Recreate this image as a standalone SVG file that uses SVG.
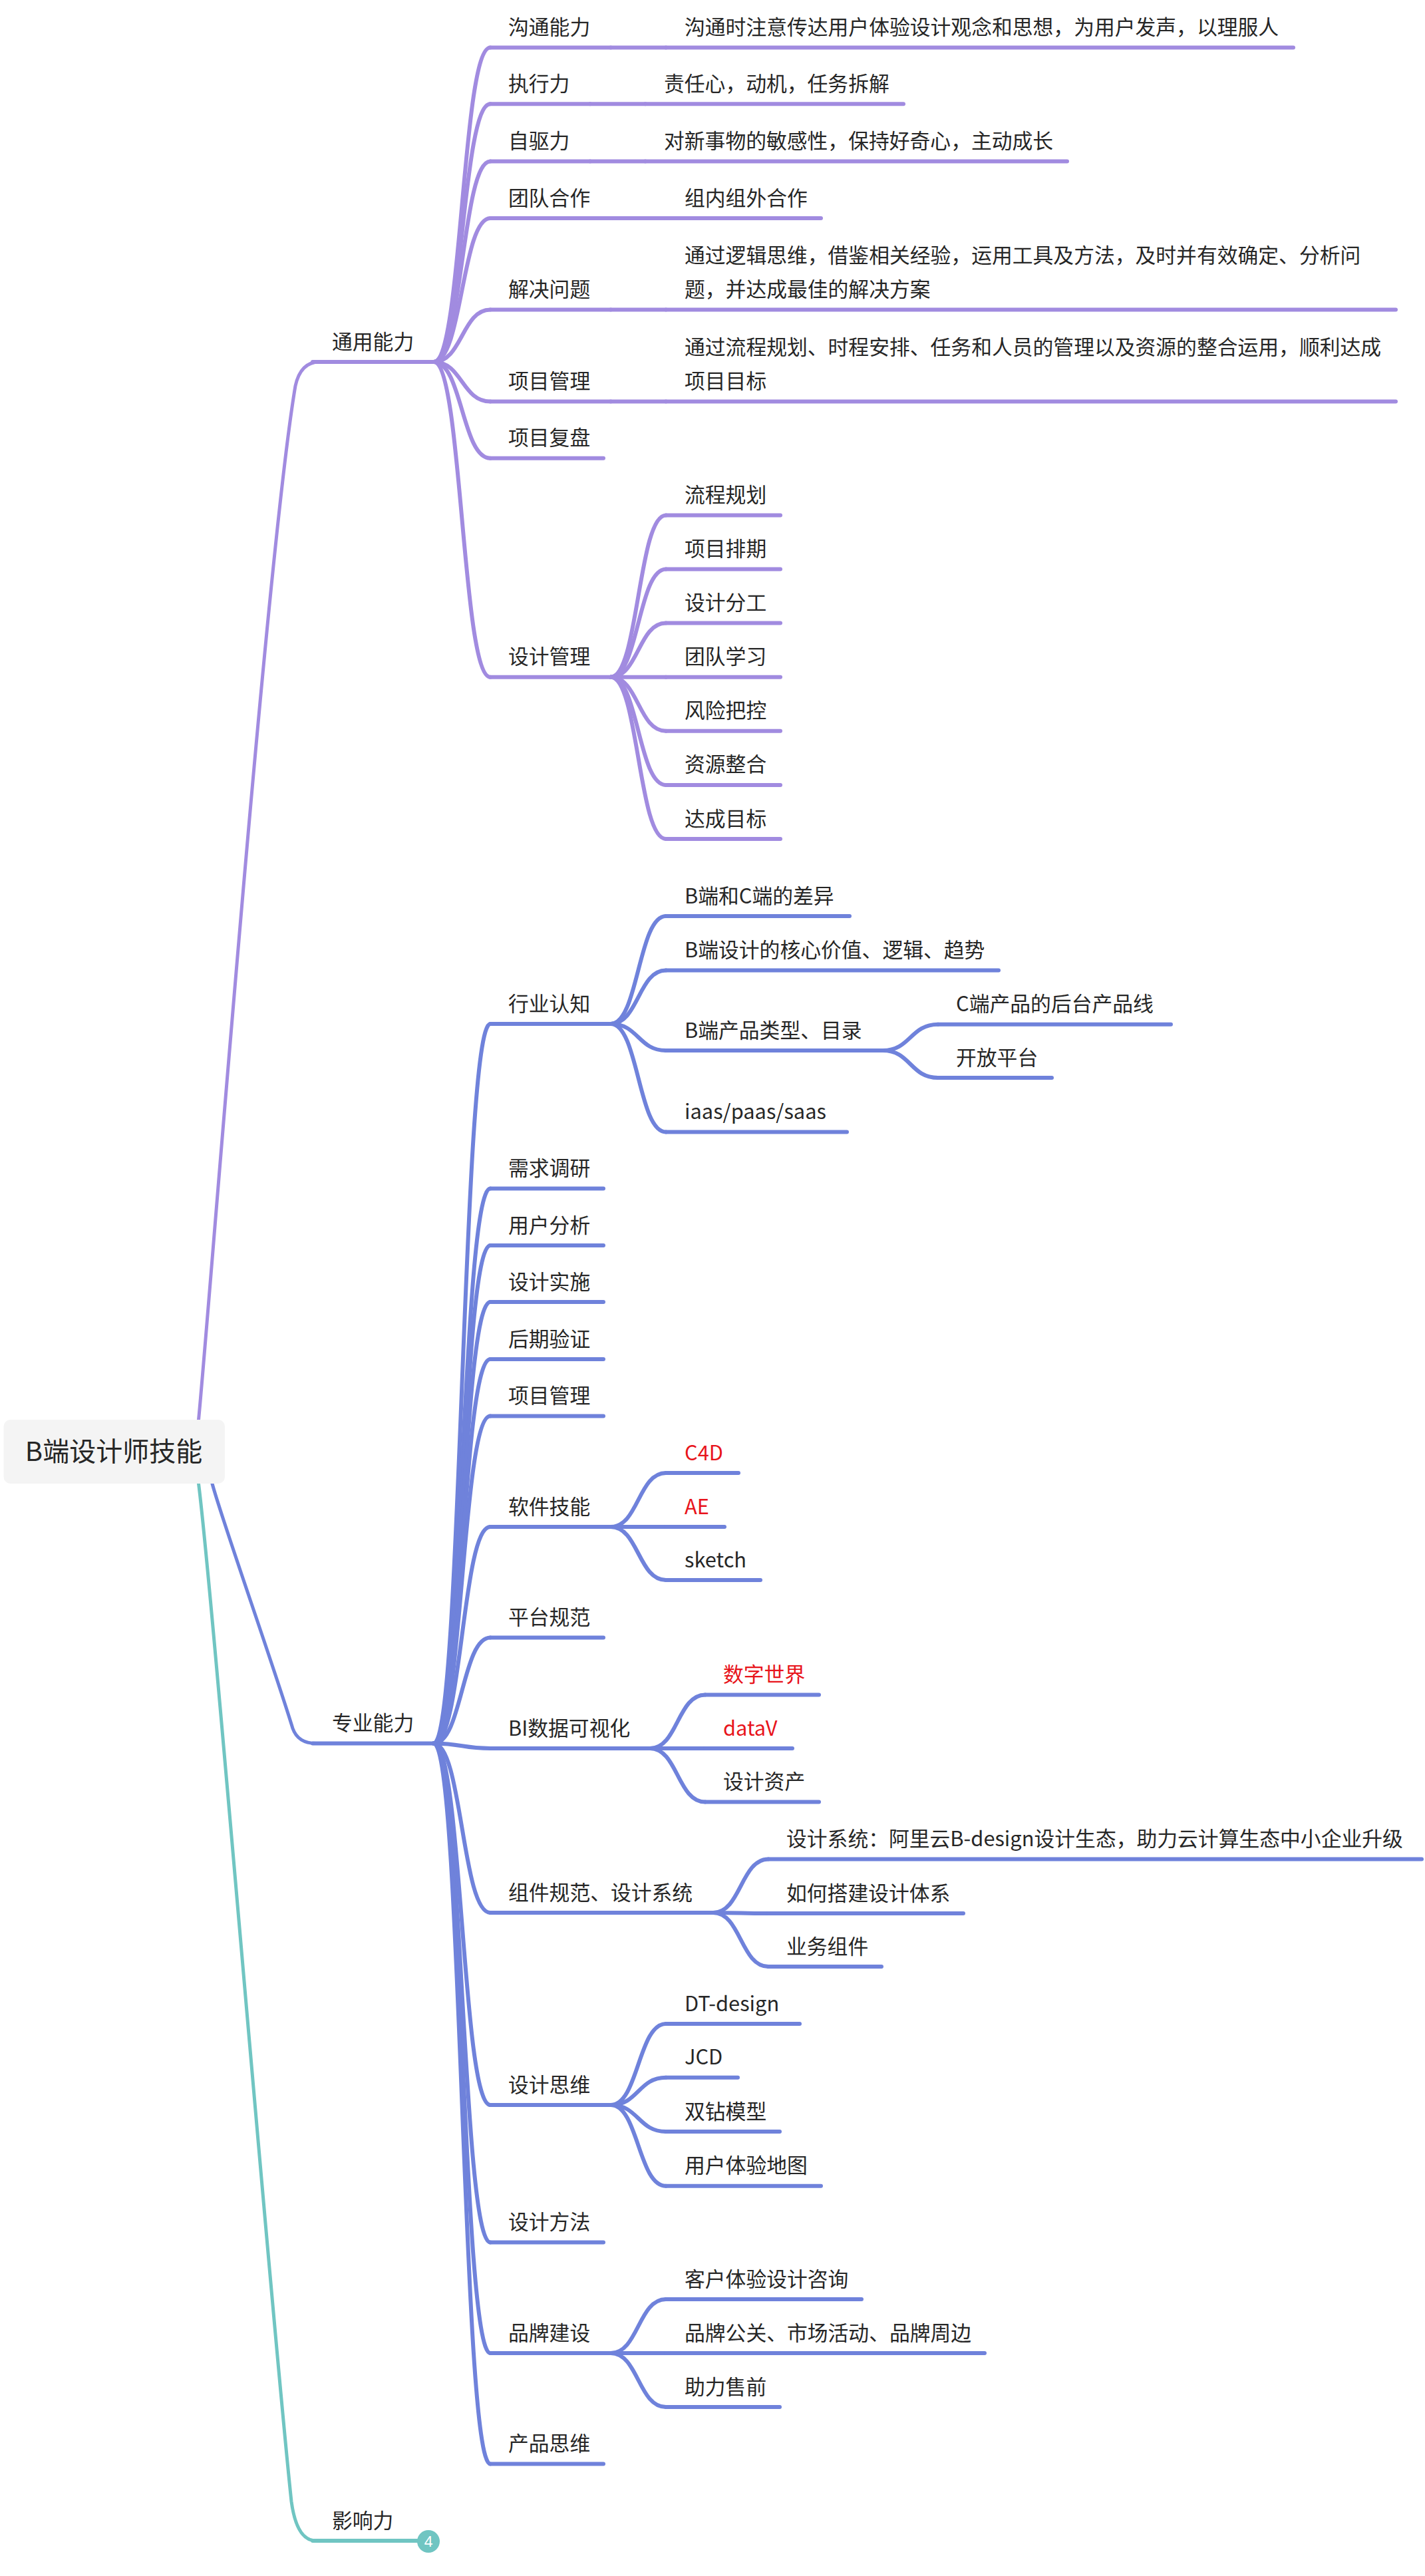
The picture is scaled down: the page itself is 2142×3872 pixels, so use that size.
<svg xmlns="http://www.w3.org/2000/svg" width="2142" height="3872" viewBox="0 0 2142 3872">
<style>
.t{font-family:"Noto Sans CJK SC","Noto Sans",sans-serif;font-size:30.8px;fill:#262626}
.rt{font-family:"Noto Sans CJK SC","Noto Sans",sans-serif;font-size:40px;fill:#262626}
.red{fill:#e8141b}
.l{fill:none;stroke-width:6;stroke-linecap:round}
.rl{fill:none;stroke-width:5;stroke-linecap:round}
.p{stroke:#a18be0}
.b{stroke:#6f82db}
.g{stroke:#70c5c2}
</style>
<rect width="2142" height="3872" fill="#ffffff"/>
<g id="connectors">
<path class="rl p" d="M298.5 2134C312 2000 400 840 444 580Q452 544 480 544"/>
<path class="rl b" d="M319 2230C332 2280 410 2500 440 2598Q448 2620.5 475 2620.5"/>
<path class="rl g" d="M298.5 2230C320 2400 405 3450 438 3760Q446 3819 475 3819"/>
<g class="l p">
<path d="M652 544C694.5 544 694.5 71.4 737 71.4"/>
<path d="M652 544C694.5 544 694.5 156.3 737 156.3"/>
<path d="M652 544C694.5 544 694.5 242.4 737 242.4"/>
<path d="M652 544C694.5 544 694.5 328 737 328"/>
<path d="M652 544C694.5 544 694.5 465.6 737 465.6"/>
<path d="M652 544C694.5 544 694.5 603.6 737 603.6"/>
<path d="M652 544C694.5 544 694.5 688.8 737 688.8"/>
<path d="M652 544C694.5 544 694.5 1017.7 737 1017.7"/>
<path d="M918 71.4L1001 71.4"/>
<path d="M887 156.3L970 156.3"/>
<path d="M887 242.4L970 242.4"/>
<path d="M918 328L1001 328"/>
<path d="M918 465.6L1001 465.6"/>
<path d="M918 603.6L1001 603.6"/>
<path d="M918 1017.7C959.5 1017.7 959.5 774.4 1001 774.4"/>
<path d="M918 1017.7C959.5 1017.7 959.5 855.5 1001 855.5"/>
<path d="M918 1017.7C959.5 1017.7 959.5 936.6 1001 936.6"/>
<path d="M918 1017.7L1001 1017.7"/>
<path d="M918 1017.7C959.5 1017.7 959.5 1098.8 1001 1098.8"/>
<path d="M918 1017.7C959.5 1017.7 959.5 1179.9 1001 1179.9"/>
<path d="M918 1017.7C959.5 1017.7 959.5 1261 1001 1261"/>
</g>
<g class="l b">
<path d="M652 2620.5C694.5 2620.5 694.5 1539 737 1539"/>
<path d="M652 2620.5C694.5 2620.5 694.5 1786.6 737 1786.6"/>
<path d="M652 2620.5C694.5 2620.5 694.5 1872 737 1872"/>
<path d="M652 2620.5C694.5 2620.5 694.5 1957 737 1957"/>
<path d="M652 2620.5C694.5 2620.5 694.5 2043 737 2043"/>
<path d="M652 2620.5C694.5 2620.5 694.5 2128.6 737 2128.6"/>
<path d="M652 2620.5C694.5 2620.5 694.5 2295 737 2295"/>
<path d="M652 2620.5C694.5 2620.5 694.5 2461.6 737 2461.6"/>
<path d="M652 2620.5C694.5 2620.5 694.5 2628 737 2628"/>
<path d="M652 2620.5C694.5 2620.5 694.5 2875 737 2875"/>
<path d="M652 2620.5C694.5 2620.5 694.5 3164 737 3164"/>
<path d="M652 2620.5C694.5 2620.5 694.5 3370.6 737 3370.6"/>
<path d="M652 2620.5C694.5 2620.5 694.5 3537 737 3537"/>
<path d="M652 2620.5C694.5 2620.5 694.5 3703.6 737 3703.6"/>
<path d="M918 1539C959.5 1539 959.5 1377 1001 1377"/>
<path d="M918 1539C959.5 1539 959.5 1458.6 1001 1458.6"/>
<path d="M918 1539C959.5 1539 959.5 1579 1001 1579"/>
<path d="M918 1539C959.5 1539 959.5 1701.6 1001 1701.6"/>
<path d="M1327 1579C1368.5 1579 1368.5 1539.7 1410 1539.7"/>
<path d="M1327 1579C1368.5 1579 1368.5 1620 1410 1620"/>
<path d="M918 2295C959.5 2295 959.5 2214 1001 2214"/>
<path d="M918 2295L1001 2295"/>
<path d="M918 2295C959.5 2295 959.5 2375 1001 2375"/>
<path d="M977 2628C1018.5 2628 1018.5 2547.5 1060 2547.5"/>
<path d="M977 2628L1060 2628"/>
<path d="M977 2628C1018.5 2628 1018.5 2708.5 1060 2708.5"/>
<path d="M1072 2875C1113.5 2875 1113.5 2794.6 1155 2794.6"/>
<path d="M1072 2875C1113.5 2875 1113.5 2876 1155 2876"/>
<path d="M1072 2875C1113.5 2875 1113.5 2956 1155 2956"/>
<path d="M918 3164C959.5 3164 959.5 3042 1001 3042"/>
<path d="M918 3164C959.5 3164 959.5 3122.8 1001 3122.8"/>
<path d="M918 3164C959.5 3164 959.5 3204 1001 3204"/>
<path d="M918 3164C959.5 3164 959.5 3285.7 1001 3285.7"/>
<path d="M918 3537C959.5 3537 959.5 3456 1001 3456"/>
<path d="M918 3537L1001 3537"/>
<path d="M918 3537C959.5 3537 959.5 3618 1001 3618"/>
</g>
</g>

<g id="n-root">
<rect x="5.5" y="2134" width="332.5" height="96" rx="10" fill="#f4f4f4"/>
<text class="rt" x="171" y="2196" text-anchor="middle">B端设计师技能</text>
</g>

<g id="n-tongyong"><path class="l p" d="M470 544H652"/><text class="t" x="499" y="524.5">通用能力</text></g>
<g id="n-goutong"><path class="l p" d="M737 71.4H918"/><text class="t" x="764" y="51.9">沟通能力</text></g>
<g id="n-goutong-1"><path class="l p" d="M1001 71.4H1944"/><text class="t" x="1029" y="51.9">沟通时注意传达用户体验设计观念和思想，为用户发声，以理服人</text></g>
<g id="n-zhixing"><path class="l p" d="M737 156.3H887"/><text class="t" x="764" y="136.8">执行力</text></g>
<g id="n-zhixing-1"><path class="l p" d="M970 156.3H1358"/><text class="t" x="998" y="136.8">责任心，动机，任务拆解</text></g>
<g id="n-ziqu"><path class="l p" d="M737 242.4H887"/><text class="t" x="764" y="222.9">自驱力</text></g>
<g id="n-ziqu-1"><path class="l p" d="M970 242.4H1604"/><text class="t" x="998" y="222.9">对新事物的敏感性，保持好奇心，主动成长</text></g>
<g id="n-tuandui"><path class="l p" d="M737 328H918"/><text class="t" x="764" y="308.5">团队合作</text></g>
<g id="n-tuandui-1"><path class="l p" d="M1001 328H1234"/><text class="t" x="1029" y="308.5">组内组外合作</text></g>
<g id="n-jiejue"><path class="l p" d="M737 465.6H918"/><text class="t" x="764" y="446.1">解决问题</text></g>
<g id="n-jiejue-1"><path class="l p" d="M1001 465.6H2098"/><text class="t" x="1029" y="394.8">通过逻辑思维，借鉴相关经验，运用工具及方法，及时并有效确定、分析问</text><text class="t" x="1029" y="446.1">题，并达成最佳的解决方案</text></g>
<g id="n-xiangmu1"><path class="l p" d="M737 603.6H918"/><text class="t" x="764" y="584.1">项目管理</text></g>
<g id="n-xiangmu1-1"><path class="l p" d="M1001 603.6H2098"/><text class="t" x="1029" y="532.8">通过流程规划、时程安排、任务和人员的管理以及资源的整合运用，顺利达成</text><text class="t" x="1029" y="584.1">项目目标</text></g>
<g id="n-fupan"><path class="l p" d="M737 688.8H907"/><text class="t" x="764" y="669.3">项目复盘</text></g>
<g id="n-sheji-guanli"><path class="l p" d="M737 1017.7H918"/><text class="t" x="764" y="998.2">设计管理</text></g>
<g id="n-liucheng"><path class="l p" d="M1001 774.4H1173"/><text class="t" x="1029" y="754.9">流程规划</text></g>
<g id="n-paiqi"><path class="l p" d="M1001 855.5H1173"/><text class="t" x="1029" y="836">项目排期</text></g>
<g id="n-fengong"><path class="l p" d="M1001 936.6H1173"/><text class="t" x="1029" y="917.1">设计分工</text></g>
<g id="n-xuexi"><path class="l p" d="M1001 1017.7H1173"/><text class="t" x="1029" y="998.2">团队学习</text></g>
<g id="n-fengxian"><path class="l p" d="M1001 1098.8H1173"/><text class="t" x="1029" y="1079.3">风险把控</text></g>
<g id="n-ziyuan"><path class="l p" d="M1001 1179.9H1173"/><text class="t" x="1029" y="1160.4">资源整合</text></g>
<g id="n-dacheng"><path class="l p" d="M1001 1261H1173"/><text class="t" x="1029" y="1241.5">达成目标</text></g>

<g id="n-zhuanye"><path class="l b" d="M470 2620.5H652"/><text class="t" x="499" y="2601">专业能力</text></g>
<g id="n-hangye"><path class="l b" d="M737 1539H918"/><text class="t" x="764" y="1519.5">行业认知</text></g>
<g id="n-bc"><path class="l b" d="M1001 1377H1277"/><text class="t" x="1029" y="1357.5">B端和C端的差异</text></g>
<g id="n-hexin"><path class="l b" d="M1001 1458.6H1501"/><text class="t" x="1029" y="1439.1">B端设计的核心价值、逻辑、趋势</text></g>
<g id="n-leixing"><path class="l b" d="M1001 1579H1327"/><text class="t" x="1029" y="1559.5">B端产品类型、目录</text></g>
<g id="n-houtai"><path class="l b" d="M1410 1539.7H1760"/><text class="t" x="1437" y="1520.2">C端产品的后台产品线</text></g>
<g id="n-kaifang"><path class="l b" d="M1410 1620H1581"/><text class="t" x="1437" y="1600.5">开放平台</text></g>
<g id="n-iaas"><path class="l b" d="M1001 1701.6H1273"/><text class="t" x="1029" y="1682.1">iaas/paas/saas</text></g>
<g id="n-xuqiu"><path class="l b" d="M737 1786.6H907"/><text class="t" x="764" y="1767.1">需求调研</text></g>
<g id="n-yonghu"><path class="l b" d="M737 1872H907"/><text class="t" x="764" y="1852.5">用户分析</text></g>
<g id="n-shishi"><path class="l b" d="M737 1957H907"/><text class="t" x="764" y="1937.5">设计实施</text></g>
<g id="n-houqi"><path class="l b" d="M737 2043H907"/><text class="t" x="764" y="2023.5">后期验证</text></g>
<g id="n-xiangmu2"><path class="l b" d="M737 2128.6H907"/><text class="t" x="764" y="2109.1">项目管理</text></g>
<g id="n-ruanjian"><path class="l b" d="M737 2295H918"/><text class="t" x="764" y="2275.5">软件技能</text></g>
<g id="n-c4d"><path class="l b" d="M1001 2214H1110"/><text class="t red" x="1029" y="2194.5">C4D</text></g>
<g id="n-ae"><path class="l b" d="M1001 2295H1089"/><text class="t red" x="1029" y="2275.5">AE</text></g>
<g id="n-sketch"><path class="l b" d="M1001 2375H1143"/><text class="t" x="1029" y="2355.5">sketch</text></g>
<g id="n-pingtai"><path class="l b" d="M737 2461.6H907"/><text class="t" x="764" y="2442.1">平台规范</text></g>
<g id="n-bi"><path class="l b" d="M737 2628H977"/><text class="t" x="764" y="2608.5">BI数据可视化</text></g>
<g id="n-shuzi"><path class="l b" d="M1060 2547.5H1231"/><text class="t red" x="1087" y="2528">数字世界</text></g>
<g id="n-datav"><path class="l b" d="M1060 2628H1191"/><text class="t red" x="1087" y="2608.5">dataV</text></g>
<g id="n-zichan"><path class="l b" d="M1060 2708.5H1231"/><text class="t" x="1087" y="2689">设计资产</text></g>
<g id="n-zujian"><path class="l b" d="M737 2875H1072"/><text class="t" x="764" y="2855.5">组件规范、设计系统</text></g>
<g id="n-xitong"><path class="l b" d="M1155 2794.6H2137"/><text class="t" x="1182" y="2775.1">设计系统：阿里云B-design设计生态，助力云计算生态中小企业升级</text></g>
<g id="n-dajian"><path class="l b" d="M1155 2876H1448"/><text class="t" x="1182" y="2856.5">如何搭建设计体系</text></g>
<g id="n-yewu"><path class="l b" d="M1155 2956H1325"/><text class="t" x="1182" y="2936.5">业务组件</text></g>
<g id="n-siwei"><path class="l b" d="M737 3164H918"/><text class="t" x="764" y="3144.5">设计思维</text></g>
<g id="n-dt"><path class="l b" d="M1001 3042H1202"/><text class="t" x="1029" y="3022.5">DT-design</text></g>
<g id="n-jcd"><path class="l b" d="M1001 3122.8H1109"/><text class="t" x="1029" y="3103.3">JCD</text></g>
<g id="n-shuangzuan"><path class="l b" d="M1001 3204H1172"/><text class="t" x="1029" y="3184.5">双钻模型</text></g>
<g id="n-ditu"><path class="l b" d="M1001 3285.7H1234"/><text class="t" x="1029" y="3266.2">用户体验地图</text></g>
<g id="n-fangfa"><path class="l b" d="M737 3370.6H907"/><text class="t" x="764" y="3351.1">设计方法</text></g>
<g id="n-pinpai"><path class="l b" d="M737 3537H918"/><text class="t" x="764" y="3517.5">品牌建设</text></g>
<g id="n-zixun"><path class="l b" d="M1001 3456H1295"/><text class="t" x="1029" y="3436.5">客户体验设计咨询</text></g>
<g id="n-gongguan"><path class="l b" d="M1001 3537H1480"/><text class="t" x="1029" y="3517.5">品牌公关、市场活动、品牌周边</text></g>
<g id="n-shouqian"><path class="l b" d="M1001 3618H1172"/><text class="t" x="1029" y="3598.5">助力售前</text></g>
<g id="n-chanpin"><path class="l b" d="M737 3703.6H907"/><text class="t" x="764" y="3684.1">产品思维</text></g>

<g id="n-yingxiang"><path class="l g" d="M470 3819H630"/><text class="t" x="499" y="3799.5">影响力</text>
<circle cx="644" cy="3820" r="17" fill="#70c5c2"/>
<text x="644" y="3828" text-anchor="middle" font-family="Noto Sans, sans-serif" font-size="22" fill="#ffffff">4</text></g>
</svg>
